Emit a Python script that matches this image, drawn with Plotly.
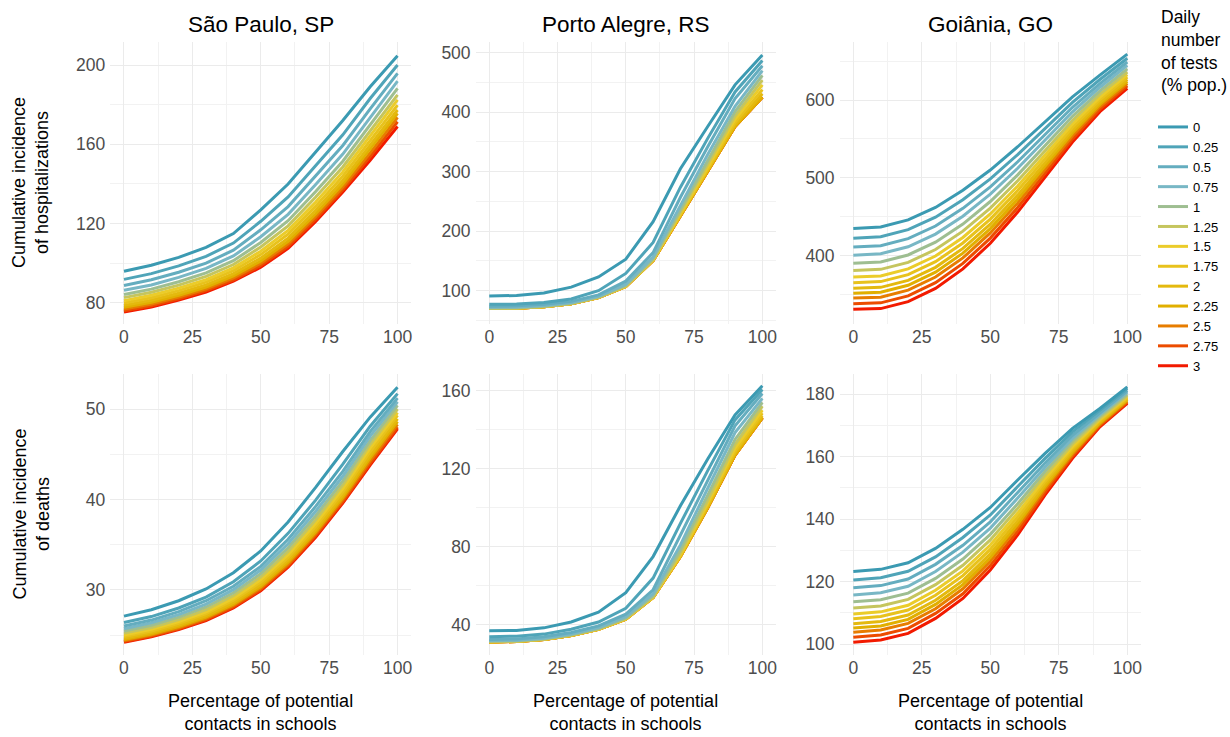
import plotly.graph_objects as go

# ---------------- data ----------------
x_pct = [0, 10, 20, 30, 40, 50, 60, 70, 80, 90, 100]
test_levels = ["0", "0.25", "0.5", "0.75", "1", "1.25", "1.5", "1.75", "2", "2.25", "2.5", "2.75", "3"]
cities = ["São Paulo, SP", "Porto Alegre, RS", "Goiânia, GO"]

sp_hosp = [
    [96, 99, 103, 108, 115, 127, 140, 156, 172, 189, 204.7],
    [91.9, 94.8, 98.7, 103.5, 110.2, 121.2, 133.5, 149, 164.8, 183.1, 200],
    [88.8, 91.7, 95.5, 100.1, 106.6, 116.9, 128.6, 143.8, 159.4, 177.9, 195.8],
    [86.4, 89.1, 92.9, 97.4, 103.7, 113.4, 124.7, 139.6, 155.1, 173.8, 191.9],
    [84.3, 87.0, 90.7, 95.2, 101.3, 110.5, 121.5, 136.1, 151.5, 170.1, 188.2],
    [82.7, 85.4, 89.0, 93.4, 99.4, 108.2, 118.9, 133.3, 148.6, 166.8, 184.9],
    [81.2, 83.9, 87.5, 91.8, 97.7, 106.1, 116.6, 130.8, 146.1, 164.2, 182.4],
    [80.0, 82.6, 86.2, 90.5, 96.3, 104.4, 114.7, 128.7, 143.9, 161.6, 179.8],
    [78.8, 81.4, 84.9, 89.1, 94.8, 102.6, 112.7, 126.6, 141.8, 159.4, 177.3],
    [77.8, 80.3, 83.9, 88.0, 93.6, 101.2, 111.1, 124.9, 140.0, 157.6, 175.6],
    [76.9, 79.5, 83.0, 87.1, 92.7, 100.0, 109.8, 123.5, 138.5, 155.7, 173.6],
    [76.1, 78.6, 82.1, 86.2, 91.7, 98.9, 108.5, 122.1, 137.1, 153.9, 171.4],
    [75.5, 78, 81.5, 85.5, 91, 98, 107.5, 121, 136, 152, 169],
]

pa_hosp = [
    [91, 92, 96, 106, 123, 153, 216, 305, 376, 446, 496],
    [77, 77.5, 80, 86, 100, 129, 181, 274, 356, 434, 487],
    [74, 74.5, 77, 82, 93, 116, 164, 257, 342, 423, 478],
    [72, 72.5, 75, 80, 90.5, 111, 157, 243, 329, 410, 470],
    [71, 71.5, 74, 79, 89.5, 109, 154, 236, 320, 401, 462],
    [70.5, 71, 73.5, 78.5, 89, 108, 152.5, 232, 313, 394, 454],
    [70.2, 70.7, 73.2, 78.2, 88.7, 107.5, 151.5, 229, 308, 388, 446],
    [70, 70.5, 73, 78, 88.5, 107, 151, 227.5, 304, 383, 438],
    [70, 70.5, 73, 78, 88.5, 107, 150.5, 226.5, 302, 379, 431],
    [70, 70.5, 73, 78, 88.5, 107, 150.5, 226, 300, 376, 425],
    [70, 70.5, 73, 78, 88.5, 107, 150.5, 226, 300, 376, 425],
    [70, 70.5, 73, 78, 88.5, 107, 150.5, 226, 300, 376, 425],
    [70, 70.5, 73, 78, 88.5, 107, 150.5, 226, 300, 376, 425],
]

go_hosp = [
    [435, 437, 446, 462, 484, 510, 540, 572, 604, 632, 659],
    [422.5, 424.4, 433.4, 449.5, 471.9, 498.7, 529.9, 563.5, 597.0, 626.4, 653.7],
    [411.1, 412.9, 421.9, 438.1, 460.8, 488.4, 520.7, 555.7, 590.7, 621.2, 648.9],
    [400.7, 402.4, 411.4, 427.7, 450.7, 479.0, 512.3, 548.6, 584.9, 616.5, 644.5],
    [390.3, 391.9, 400.9, 417.3, 440.6, 469.6, 503.9, 541.5, 579.1, 611.8, 640.1],
    [380.9, 382.4, 391.4, 407.9, 431.5, 461.1, 496.3, 535.1, 573.8, 607.6, 636.1],
    [372.6, 374.0, 383.0, 399.6, 423.4, 453.6, 489.6, 529.4, 569.2, 603.8, 632.6],
    [365.3, 366.7, 375.7, 392.3, 416.3, 447.0, 483.7, 524.4, 565.1, 600.5, 629.5],
    [358.0, 359.3, 368.3, 385.0, 409.3, 440.4, 477.8, 519.5, 561.1, 597.2, 626.4],
    [351.8, 353.0, 362.0, 378.8, 403.2, 434.8, 472.8, 515.2, 557.6, 594.4, 623.8],
    [345.6, 346.7, 355.7, 372.6, 397.1, 429.2, 467.8, 510.9, 554.1, 591.6, 621.2],
    [338.3, 339.4, 348.4, 365.3, 390.1, 422.6, 461.9, 506.0, 550.1, 588.3, 618.1],
    [331, 332, 341, 358, 383, 416, 456, 501, 546, 585, 615],
]

sp_death = [
    [27.1, 27.8, 28.8, 30.1, 31.9, 34.3, 37.5, 41.3, 45.3, 49.1, 52.4],
    [26.4, 27.05, 28.0, 29.2, 30.9, 33.2, 36.25, 39.9, 43.9, 48.1, 51.7],
    [26.0, 26.66, 27.6, 28.8, 30.4, 32.6, 35.6, 39.2, 43.1, 47.5, 51.2],
    [25.7, 26.36, 27.26, 28.42, 30.03, 32.19, 35.1, 38.66, 42.56, 47.0, 50.8],
    [25.45, 26.09, 26.98, 28.11, 29.68, 31.79, 34.65, 38.17, 42.05, 46.5, 50.4],
    [25.22, 25.85, 26.72, 27.83, 29.37, 31.44, 34.25, 37.73, 41.6, 46.1, 50.0],
    [25.01, 25.64, 26.5, 27.58, 29.09, 31.13, 33.9, 37.34, 41.2, 45.7, 49.6],
    [24.84, 25.46, 26.3, 27.37, 28.86, 30.87, 33.6, 37.01, 40.85, 45.3, 49.3],
    [24.66, 25.28, 26.11, 27.16, 28.62, 30.6, 33.3, 36.68, 40.51, 44.9, 48.9],
    [24.52, 25.13, 25.95, 26.99, 28.43, 30.38, 33.05, 36.41, 40.23, 44.6, 48.6],
    [24.4, 25.01, 25.82, 26.85, 28.27, 30.21, 32.85, 36.19, 40.0, 44.3, 48.3],
    [24.29, 24.89, 25.7, 26.71, 28.12, 30.03, 32.65, 35.97, 39.77, 44.0, 48.0],
    [24.2, 24.8, 25.6, 26.6, 28.0, 29.9, 32.5, 35.8, 39.6, 43.8, 47.8],
]

pa_death = [
    [37, 37.2, 38.5, 41.5, 46.5, 56.5, 75, 101, 125, 147.5, 162.5],
    [34, 34.2, 35.3, 37.8, 41.5, 48.5, 64, 92, 119, 145, 160.5],
    [32.6, 32.8, 33.9, 36.1, 39.5, 45.5, 58, 86, 114, 142, 158.5],
    [32, 32.2, 33.2, 35.4, 38.6, 44.2, 56, 81, 110, 138.5, 156],
    [31.7, 31.9, 32.9, 35, 38.2, 43.6, 55, 78.5, 106.5, 135, 154],
    [31.5, 31.7, 32.7, 34.8, 38, 43.3, 54.5, 77, 104, 132.5, 152],
    [31.4, 31.6, 32.6, 34.7, 37.8, 43.1, 54.2, 76, 102.5, 130.5, 150],
    [31.3, 31.5, 32.5, 34.6, 37.7, 43, 54, 75.5, 101.5, 129, 148.5],
    [31.3, 31.5, 32.5, 34.6, 37.7, 43, 54, 75, 100.5, 128, 147],
    [31.3, 31.5, 32.5, 34.6, 37.7, 43, 54, 75, 100, 127, 146],
    [31.3, 31.5, 32.5, 34.6, 37.7, 43, 54, 75, 100, 127, 146],
    [31.3, 31.5, 32.5, 34.6, 37.7, 43, 54, 75, 100, 127, 146],
    [31.3, 31.5, 32.5, 34.6, 37.7, 43, 54, 75, 100, 127, 146],
]

go_death = [
    [123.2, 123.9, 126, 130.6, 136.7, 143.7, 152.5, 161, 169, 175.4, 182.3],
    [120.5, 121.2, 123.3, 127.9, 134.1, 141.3, 150.4, 159.4, 167.9, 174.7, 181.7],
    [118.0, 118.7, 120.8, 125.5, 131.6, 139.1, 148.5, 157.9, 166.8, 174.0, 181.1],
    [115.7, 116.4, 118.5, 123.2, 129.4, 137.1, 146.7, 156.6, 165.8, 173.5, 180.6],
    [113.5, 114.2, 116.3, 121.0, 127.2, 135.1, 144.9, 155.3, 164.9, 172.9, 180.0],
    [111.5, 112.2, 114.3, 119.0, 125.2, 133.3, 143.4, 154.1, 164.0, 172.3, 179.5],
    [109.6, 110.3, 112.4, 117.2, 123.4, 131.7, 141.9, 153.0, 163.2, 171.9, 179.1],
    [108.1, 108.8, 110.9, 115.6, 121.9, 130.3, 140.7, 152.1, 162.6, 171.5, 178.8],
    [106.5, 107.2, 109.3, 114.0, 120.3, 128.9, 139.5, 151.2, 161.9, 171.0, 178.4],
    [105.1, 105.8, 107.9, 112.7, 119.0, 127.7, 138.4, 150.4, 161.3, 170.7, 178.1],
    [103.8, 104.5, 106.6, 111.3, 117.7, 126.5, 137.4, 149.6, 160.7, 170.3, 177.7],
    [102.2, 102.9, 105.0, 109.8, 116.1, 125.1, 136.1, 148.6, 160.1, 169.9, 177.4],
    [100.6, 101.3, 103.4, 108.2, 114.6, 123.7, 134.9, 147.7, 159.4, 169.5, 177.0],
]

x_ticks = [0, 25, 50, 75, 100]

# ---------------- style ----------------
colors = ["#3B9AB2", "#4FA4B8", "#64ADBF", "#78B7C5", "#9EBE91", "#C5C55E", "#EBCC2A",
          "#E8C21C", "#E4B90E", "#E1AF00", "#E77D00", "#EC4C00", "#F21A00"]
FONT = "Liberation Sans, Arial, sans-serif"
W, H = 1230, 737

x_doms = [(110.3 / W, 411.2 / W), (475.6 / W, 776.0 / W), (839.6 / W, 1141.0 / W)]
y_doms = [(1 - 324 / H, 1 - 42 / H), (1 - 655 / H, 1 - 374 / H)]

# (data, row, col, y range, y dtick)
panels = [
    (sp_hosp, 0, 0, [69.4, 211.6], 40),
    (pa_hosp, 0, 1, [44, 518], 100),
    (go_hosp, 0, 2, [312.2, 674.6], 100),
    (sp_death, 1, 0, [22.8, 53.87], 10),
    (pa_death, 1, 1, [24.6, 168.5], 40),
    (go_death, 1, 2, [96.5, 186.4], 20),
]

fig = go.Figure()
layout = {}
for i, (data, row, col, yr, dt) in enumerate(panels):
    n = i + 1
    xa = "x" if n == 1 else f"x{n}"
    ya = "y" if n == 1 else f"y{n}"
    for k in reversed(range(len(test_levels))):
        fig.add_trace(go.Scatter(
            x=x_pct, y=data[k], mode="lines",
            line=dict(color=colors[k], width=3),
            name=test_levels[k], legendgroup=test_levels[k],
            showlegend=(i == 0), xaxis=xa, yaxis=ya,
            hovertemplate="%{x}: %{y}<extra>" + test_levels[k] + "</extra>",
        ))
    layout["xaxis" if n == 1 else f"xaxis{n}"] = dict(
        domain=list(x_doms[col]), anchor=ya, range=[-5, 105],
        tickvals=x_ticks, showgrid=True, gridcolor="#EBEBEB", gridwidth=1.1,
        minor=dict(dtick=12.5, tick0=0, showgrid=True, gridcolor="#F2F2F2", gridwidth=0.6),
        zeroline=False, showline=False, ticks="",
        tickfont=dict(family=FONT, size=17.5, color="#4D4D4D"),
        ticklabelstandoff=0,
    )
    layout["yaxis" if n == 1 else f"yaxis{n}"] = dict(
        domain=list(y_doms[row]), anchor=xa, range=yr,
        dtick=dt, tick0=0, showgrid=True, gridcolor="#EBEBEB", gridwidth=1.1,
        minor=dict(dtick=dt / 2, showgrid=True, gridcolor="#F2F2F2", gridwidth=0.6),
        zeroline=False, showline=False, ticks="",
        tickfont=dict(family=FONT, size=17.5, color="#4D4D4D"),
        ticklabelstandoff=4,
    )

annotations = []
for col, name in enumerate(cities):
    cx = (x_doms[col][0] + x_doms[col][1]) / 2
    annotations.append(dict(text=name, x=cx, y=1 - 25 / H, xref="paper", yref="paper",
                            xanchor="center", yanchor="middle", showarrow=False,
                            font=dict(family=FONT, size=22.5, color="#000000")))
    annotations.append(dict(text="Percentage of potential<br>contacts in schools",
                            x=cx, y=1 - 712 / H,
                            xref="paper", yref="paper", xanchor="center", yanchor="middle",
                            showarrow=False, font=dict(family=FONT, size=18, color="#000000")))

for row, second in enumerate(["of hospitalizations", "of deaths"]):
    cy = (y_doms[row][0] + y_doms[row][1]) / 2
    annotations.append(dict(text="Cumulative incidence<br>" + second, x=31 / W, y=cy,
                            xref="paper", yref="paper",
                            xanchor="center", yanchor="middle", textangle=-90,
                            showarrow=False,
                            font=dict(family=FONT, size=18, color="#000000")))

annotations.append(dict(text="Daily<br>number<br>of tests<br>(% pop.)", x=1159 / W, y=1 - 5 / H,
                        xref="paper", yref="paper", xanchor="left", yanchor="top",
                        align="left", showarrow=False,
                        font=dict(family=FONT, size=17.5, color="#000000")))

fig.update_layout(
    **layout,
    width=W, height=H,
    margin=dict(l=0, r=0, t=0, b=0, autoexpand=False),
    paper_bgcolor="white", plot_bgcolor="white",
    font=dict(family=FONT, color="#000000"),
    annotations=annotations,
    legend=dict(x=1153 / W, y=1 - 112 / H, xanchor="left", yanchor="top",
                traceorder="reversed", tracegroupgap=0,
                font=dict(family=FONT, size=13, color="#000000"),
                bgcolor="rgba(0,0,0,0)", borderwidth=0),
    showlegend=True,
)

fig.write_html(
    "out.html",
    config={"displayModeBar": False},
    post_script="document.body.style.margin='0';document.body.style.padding='0';"
                "document.documentElement.style.overflow='hidden';"
                "document.body.style.overflow='hidden';",
)
